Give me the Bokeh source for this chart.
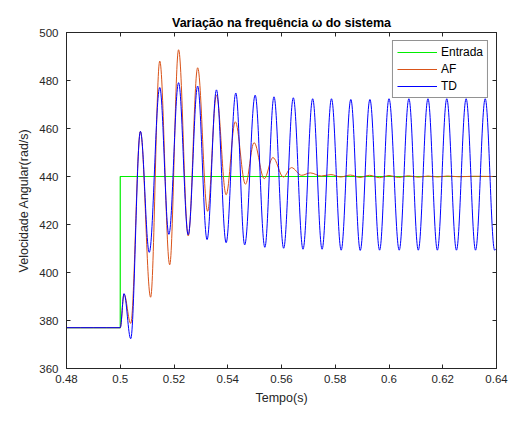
import numpy as np
from bokeh.plotting import figure
from bokeh.models import Range1d, FixedTicker, LinearAxis, Legend, LegendItem, ColumnDataSource
from bokeh.embed import file_html
from bokeh.resources import INLINE

title_text = "Variação na frequência ω do sistema"
x_label = "Tempo(s)"
y_label = "Velocidade Angular(rad/s)"

x_ticks = [0.48, 0.50, 0.52, 0.54, 0.56, 0.58, 0.60, 0.62, 0.64]
x_tick_labels = ["0.48", "0.5", "0.52", "0.54", "0.56", "0.58", "0.6", "0.62", "0.64"]
y_ticks = [360, 380, 400, 420, 440, 460, 480, 500]
y_tick_labels = ["360", "380", "400", "420", "440", "460", "480", "500"]

series_names = ["Entrada", "AF", "TD"]

# Entrada (step input)
entrada_t = [0.48, 0.50, 0.50, 0.64]
entrada_v = [377, 377, 440, 440]

# AF response: turning points
af_t = [0.48, 0.5000, 0.5014, 0.5039, 0.5075, 0.5113, 0.5147, 0.5184, 0.5217, 0.5253,
        0.5288, 0.5325, 0.5358, 0.5394, 0.5428, 0.5466, 0.5498, 0.5536, 0.5568, 0.5607,
        0.5637, 0.5675, 0.5707, 0.5748, 0.5784, 0.5820, 0.5856, 0.5892, 0.5928, 0.5964,
        0.6000, 0.6036, 0.6073, 0.6109, 0.6145, 0.6181, 0.6217, 0.6260, 0.6315, 0.6400]
af_v = [377.0, 377.0, 391.0, 378.8, 458.8, 389.7, 488.1, 403.2, 492.8, 415.2,
        485.3, 425.5, 473.9, 432.4, 462.8, 436.8, 454.1, 439.1, 447.9, 439.8,
        443.7, 440.5, 441.5, 440.2, 440.8, 439.8, 440.6, 439.6, 440.5, 439.5,
        440.4, 439.6, 440.3, 439.7, 440.2, 439.8, 440.2, 439.9, 440.1, 440.0]

# TD response: turning points
td_t = [0.48, 0.5000, 0.5014, 0.5039, 0.5075, 0.5108, 0.5147, 0.5181, 0.5217, 0.5253,
        0.5288, 0.5323, 0.5358, 0.5394, 0.5430, 0.5463, 0.5502, 0.5538, 0.5572, 0.5608,
        0.5644, 0.5680, 0.5716, 0.5751, 0.5786, 0.5822, 0.5858, 0.5893, 0.5929, 0.5965,
        0.6000, 0.6038, 0.6074, 0.6109, 0.6145, 0.6180, 0.6215, 0.6251, 0.6287, 0.6322,
        0.6358, 0.6393, 0.6400]
td_v = [377.0, 377.0, 391.2, 372.4, 458.8, 408.4, 477.1, 415.9, 479.1, 415.7,
        477.7, 413.7, 476.1, 412.4, 474.8, 411.5, 473.9, 410.5, 473.2, 410.1,
        472.8, 409.7, 472.4, 409.7, 472.4, 409.3, 472.1, 409.2, 472.1, 409.3,
        472.4, 409.3, 472.4, 409.3, 472.4, 409.3, 472.4, 409.3, 472.4, 409.3,
        472.4, 409.3, 410.0]

colors = {"Entrada": "#00ee00", "AF": "#D95319", "TD": "#0000ff"}
AX = "#262626"
FONT = "Liberation Sans"


def smooth_source(t, v, k=0.364):
    t = np.asarray(t, float)
    v = np.asarray(v, float)
    x0, x1 = t[:-1], t[1:]
    y0, y1 = v[:-1], v[1:]
    dx = x1 - x0
    return ColumnDataSource(dict(x0=x0, y0=y0, x1=x1, y1=y1,
                                 cx0=x0 + k * dx, cy0=y0,
                                 cx1=x1 - k * dx, cy1=y1))


p = figure(width=508, height=407, output_backend="svg", toolbar_location=None,
           x_range=Range1d(0.48, 0.64), y_range=Range1d(360, 500),
           min_border_left=66, min_border_right=12, min_border_top=32, min_border_bottom=10)
p.background_fill_color = "white"
p.border_fill_color = "white"
p.outline_line_color = AX
p.outline_line_width = 1
p.grid.visible = False

p.title.text = title_text
p.title.align = "center"
p.title.text_font = FONT
p.title.text_font_size = "12.5px"
p.title.text_font_style = "bold"
p.title.text_color = "black"
p.title.standoff = 6

for ax in (p.xaxis[0], p.yaxis[0]):
    ax.axis_line_color = AX
    ax.major_tick_line_color = AX
    ax.major_tick_in = 4
    ax.major_tick_out = 0
    ax.minor_tick_line_color = None
    ax.major_label_text_font = FONT
    ax.major_label_text_font_size = "11.5px"
    ax.major_label_text_color = AX
    ax.axis_label_text_font = FONT
    ax.axis_label_text_font_size = "12.5px"
    ax.axis_label_text_font_style = "normal"
    ax.axis_label_text_color = AX

p.xaxis[0].ticker = FixedTicker(ticks=x_ticks)
p.xaxis[0].major_label_overrides = dict(zip(x_ticks, x_tick_labels))
p.xaxis[0].major_label_standoff = 6
p.xaxis[0].axis_label = x_label
p.xaxis[0].axis_label_standoff = 5

p.yaxis[0].ticker = FixedTicker(ticks=y_ticks)
p.yaxis[0].major_label_overrides = dict(zip(y_ticks, y_tick_labels))
p.yaxis[0].major_label_standoff = 8
p.yaxis[0].axis_label = y_label
p.yaxis[0].axis_label_standoff = 5

for side, ticks in (("above", x_ticks), ("right", y_ticks)):
    a = LinearAxis(ticker=FixedTicker(ticks=ticks))
    a.axis_line_color = AX
    a.major_tick_line_color = AX
    a.major_tick_in = 4
    a.major_tick_out = 0
    a.minor_tick_line_color = None
    a.major_label_text_color = None
    a.major_label_text_font_size = "0px"
    a.major_label_standoff = 0
    p.add_layout(a, side)

r_in = p.line(entrada_t, entrada_v, line_color=colors["Entrada"], line_width=1.2)
r_af = p.bezier(x0="x0", y0="y0", x1="x1", y1="y1", cx0="cx0", cy0="cy0", cx1="cx1", cy1="cy1",
                source=smooth_source(af_t, af_v), line_color=colors["AF"], line_width=1)
r_td = p.bezier(x0="x0", y0="y0", x1="x1", y1="y1", cx0="cx0", cy0="cy0", cx1="cx1", cy1="cy1",
                source=smooth_source(td_t, td_v), line_color=colors["TD"], line_width=1)

legend = Legend(items=[LegendItem(label=series_names[0], renderers=[r_in]),
                       LegendItem(label=series_names[1], renderers=[r_af]),
                       LegendItem(label=series_names[2], renderers=[r_td])],
                location="top_right")
legend.label_text_font = FONT
legend.label_text_font_size = "12px"
legend.label_text_color = "black"
legend.border_line_color = AX
legend.border_line_width = 1
legend.background_fill_color = "white"
legend.background_fill_alpha = 1
legend.glyph_width = 40
legend.glyph_height = 14
legend.label_height = 14
legend.label_standoff = 4
legend.spacing = 3
legend.padding = 4
legend.margin = 8
p.add_layout(legend, "center")

open("out.html", "w").write(file_html(p, INLINE))
